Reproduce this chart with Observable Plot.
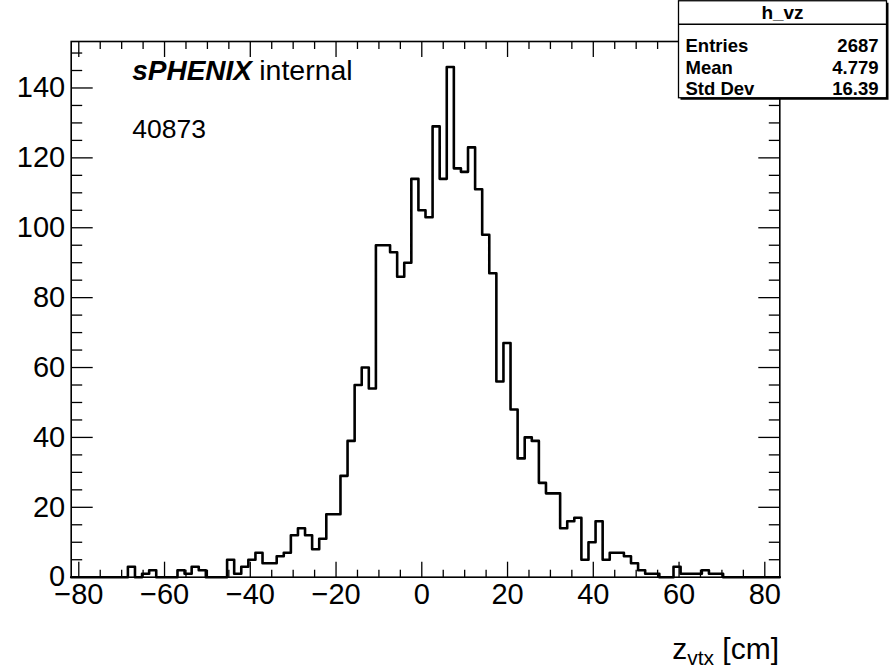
<!DOCTYPE html>
<html>
<head>
<meta charset="utf-8">
<script src="https://cdn.jsdelivr.net/npm/d3@7"></script>
<script src="https://cdn.jsdelivr.net/npm/@observablehq/plot@0.6"></script>
<style>
  html, body { margin: 0; padding: 0; background: #fff; }
  #chart { width: 890px; height: 668px; }
</style>
</head>
<body>
<div id="chart"></div>
<script>
// ---------- data ----------
const histName = "h_vz";
const xMin = -81.77;
const xMax = 83.5;
const nBins = 100;
const yMax = 153.3;
// bin contents, 10 per row
const counts = [
  0, 0, 0, 0, 0, 0, 0, 0, 3, 0,
  1, 2, 0, 0, 0, 2, 1, 3, 2, 0,
  0, 0, 5, 1, 3, 5, 7, 4, 4, 6,
  7, 12, 14, 12, 8, 11, 18, 18, 29, 39,
  55, 60, 54, 95, 95, 93, 86, 90, 114, 105,
  103, 129, 114, 146, 117, 116, 123, 111, 98, 87,
  56, 67, 48, 34, 40, 39, 27, 24, 24, 14,
  16, 17, 5, 10, 16, 5, 7, 7, 6, 4,
  2, 1, 1, 0, 0, 3, 1, 1, 1, 2,
  1, 1, 0, 0, 0, 0, 0, 0, 0, 0
];
const xMajorTicks = [-80, -60, -40, -20, 0, 20, 40, 60, 80];
const yMajorTicks = [0, 20, 40, 60, 80, 100, 120, 140];
const xMinorTicks = d3.range(-80, 81, 5).filter(v => !xMajorTicks.includes(v));
const yMinorTicks = d3.range(0, 151, 5).filter(v => !yMajorTicks.includes(v));
const statLabels = ["Entries", "Mean", "Std Dev"];
const statValues = ["2687", "4.779", "16.39"];
const experiment = "sPHENIX";
const status = "internal";
const runNumber = "40873";
const xTitleMain = "z";
const xTitleSub = "vtx";
const xTitleUnit = " [cm]";

// ---------- build step outline ----------
const binW = (xMax - xMin) / nBins;
const pts = counts.map((c, i) => ({x: xMin + i * binW, y: c}));
pts.push({x: xMax, y: counts[counts.length - 1]});

// ---------- layout ----------
const W = 890, H = 668;
const mL = 70.7, mR = 110.7, mT = 41, mB = 91.3;
const fw = W - mL - mR, fh = H - mT - mB;
const font = "'Liberation Sans', Arial, Helvetica, sans-serif";
const fmt = d => d < 0 ? "\u2212" + Math.abs(d) : String(d);

const axisStyle = {stroke: "black", strokeWidth: 1.3, fill: "none", label: null};

const plot = Plot.plot({
  width: W, height: H,
  marginLeft: mL, marginRight: mR, marginTop: mT, marginBottom: mB,
  x: {domain: [xMin, xMax]},
  y: {domain: [0, yMax]},
  style: {fontFamily: font, fontSize: "29px", color: "black", background: "white"},
  marks: [
    Plot.line(pts, {x: "x", y: "y", curve: "step-after", stroke: "black", strokeWidth: 2.6}),
    // bottom ticks (pointing up, into frame)
    Plot.axisX(xMajorTicks, {anchor: "top", tickSize: 16, dy: fh, ...axisStyle}),
    Plot.axisX(xMinorTicks, {anchor: "top", tickSize: 8, dy: fh, ...axisStyle}),
    // top ticks (pointing down)
    Plot.axisX(xMajorTicks, {anchor: "bottom", tickSize: 16, dy: -fh, ...axisStyle}),
    Plot.axisX(xMinorTicks, {anchor: "bottom", tickSize: 8, dy: -fh, ...axisStyle}),
    // left ticks (pointing right)
    Plot.axisY(yMajorTicks, {anchor: "right", tickSize: 21, dx: -fw, ...axisStyle}),
    Plot.axisY(yMinorTicks, {anchor: "right", tickSize: 10.5, dx: -fw, ...axisStyle}),
    // right ticks (pointing left)
    Plot.axisY(yMajorTicks, {anchor: "left", tickSize: 21, dx: fw, ...axisStyle}),
    Plot.axisY(yMinorTicks, {anchor: "left", tickSize: 10.5, dx: fw, ...axisStyle}),
    // labels
    Plot.axisX(xMajorTicks, {anchor: "bottom", tickSize: 0, tickPadding: 6, tickFormat: fmt, fontSize: 29, fill: "black", label: null}),
    Plot.axisY(yMajorTicks, {anchor: "left", tickSize: 0, tickPadding: 6, tickFormat: fmt, fontSize: 29, fill: "black", label: null}),
    // annotations
    Plot.text([experiment], {text: d => d, frameAnchor: "top-left", dx: 61, dy: 38, lineAnchor: "bottom", textAnchor: "start", fontSize: 28, fontWeight: "bold", fontStyle: "italic", fill: "black"}),
    Plot.text([status], {text: d => d, frameAnchor: "top-left", dx: 188, dy: 38, lineAnchor: "bottom", textAnchor: "start", fontSize: 28.5, fill: "black"}),
    Plot.text([runNumber], {text: d => d, frameAnchor: "top-left", dx: 61, dy: 96, lineAnchor: "bottom", textAnchor: "start", fontSize: 26.5, fill: "black"}),
    Plot.frame({stroke: "black", strokeWidth: 1.6})
  ]
});
document.getElementById("chart").appendChild(plot);

// ---------- overlays: x title and stats box ----------
const svg = d3.select(plot);
const xt = svg.append("text")
  .attr("x", 779).attr("y", 659)
  .attr("text-anchor", "end")
  .attr("font-family", font).attr("font-size", 30).attr("fill", "black");
xt.append("tspan").text(xTitleMain);
xt.append("tspan").attr("font-size", 21).attr("dy", 6).text(xTitleSub);
xt.append("tspan").attr("dy", -6).text(xTitleUnit);

const bx = 678.5, by = 0.75, bw = 208, bh = 97, hdr = 23.5;
const box = svg.append("g").attr("font-family", font).attr("font-weight", "bold").attr("fill", "black");
box.append("rect").attr("x", bx + 2).attr("y", by + 2).attr("width", bw).attr("height", bh).attr("fill", "black");
box.append("rect").attr("x", bx).attr("y", by).attr("width", bw).attr("height", bh)
  .attr("fill", "white").attr("stroke", "black").attr("stroke-width", 1.3);
box.append("line").attr("x1", bx).attr("x2", bx + bw).attr("y1", by + hdr).attr("y2", by + hdr)
  .attr("stroke", "black").attr("stroke-width", 1.3);
box.append("text").attr("x", bx + bw / 2).attr("y", by + 18.5).attr("text-anchor", "middle")
  .attr("font-size", 19).text(histName);
statLabels.forEach((lab, i) => {
  const yb = by + hdr + 28 + i * 21.5;
  box.append("text").attr("x", bx + 7).attr("y", yb).attr("text-anchor", "start").attr("font-size", 18.5).text(lab);
  box.append("text").attr("x", bx + bw - 8).attr("y", yb).attr("text-anchor", "end").attr("font-size", 18.5).text(statValues[i]);
});
</script>
</body>
</html>
